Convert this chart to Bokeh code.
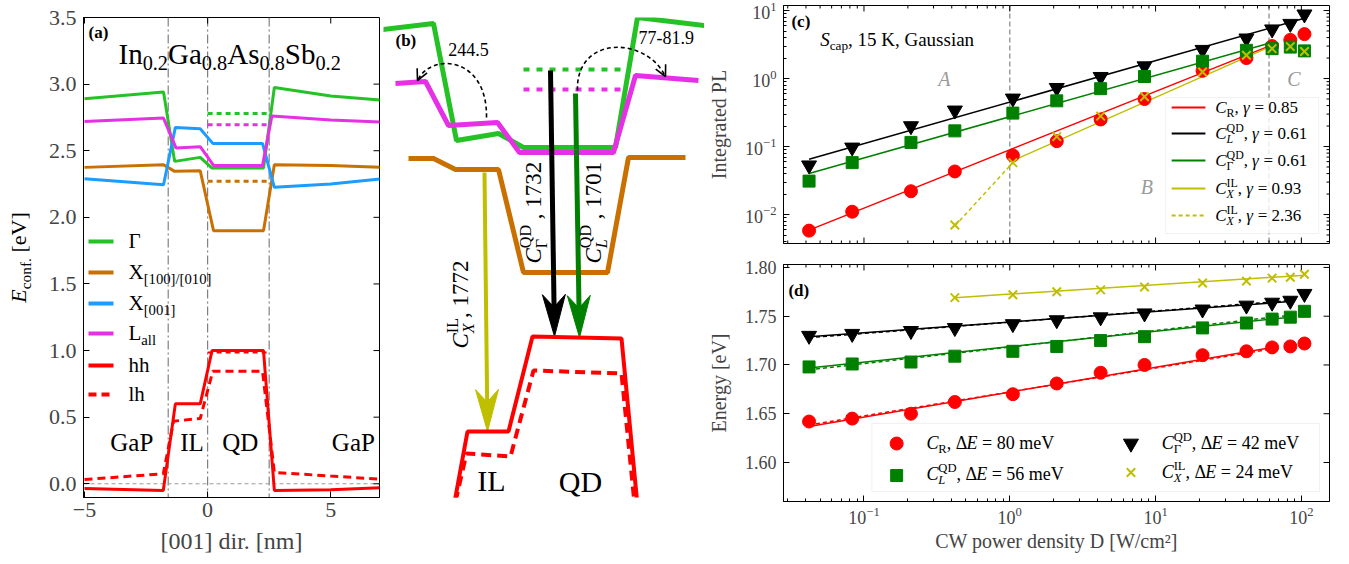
import math
from bokeh.plotting import figure
from bokeh.models import (Range1d, Label, Arrow, OpenHead, Span, FixedTicker, LinearScale,
                          CustomJSTickFormatter, BoxAnnotation)
from bokeh.layouts import row, column
from bokeh.embed import file_html
from bokeh.resources import INLINE

SERIF = "Liberation Serif"
RED = "#ff0000"
MGREEN = "#008000"
MYEL = "#bfbf00"
C_G = "#25c225"
C_X = "#c97000"
C_Z = "#1c9cff"
C_L = "#e530e5"
GRAY = "#808080"

# ---------------- panel (a): band edges along [001] (nm, eV) ----------------
a_G_x = [-5.0, -1.79, -1.34, -0.30, 0.18, 2.27, 2.71, 5.0, 7.0]
a_G_y = [2.89, 2.94, 2.42, 2.45, 2.37, 2.37, 2.975, 2.91, 2.88]
a_X_x = [-5.0, -1.79, -1.34, -0.30, 0.24, 2.27, 2.71, 5.0, 7.0]
a_X_y = [2.375, 2.395, 2.345, 2.35, 1.90, 1.90, 2.395, 2.39, 2.375]
a_Z_x = [-5.0, -1.79, -1.31, -0.30, 0.21, 2.23, 2.71, 5.0, 7.0]
a_Z_y = [2.29, 2.245, 2.675, 2.665, 2.555, 2.555, 2.225, 2.25, 2.287]
a_L_x = [-5.0, -1.79, -1.28, -0.30, 0.24, 2.23, 2.61, 5.0, 7.0]
a_L_y = [2.72, 2.745, 2.52, 2.53, 2.39, 2.39, 2.76, 2.73, 2.715]
a_hh_x = [-5.0, -1.80, -1.31, -0.30, 0.18, 2.27, 2.71, 5.0, 7.0]
a_hh_y = [-0.035, -0.05, 0.60, 0.60, 1.0, 1.0, -0.05, -0.045, -0.03]
a_lh_x = [-5.0, -1.80, -1.38, -0.30, 0.21, 2.23, 2.71, 5.0, 7.0]
a_lh_y = [0.032, 0.075, 0.47, 0.49, 0.845, 0.845, 0.085, 0.058, 0.035]
a_lev_x = [0.0, 2.41]
a_lev_G = 2.78
a_lev_L = 2.695
a_lev_X = 2.27
a_lev_hh = 0.985
a_iface = [-1.6, 0.0, 2.5]
a_regions = ["GaP", "IL", "QD", "GaP"]
a_region_x = [-3.08, -0.63, 1.33, 5.92]
a_xticks = [-5, 0, 5]
a_yticks = [0.0, 0.5, 1.0, 1.5, 2.0, 2.5, 3.0, 3.5]
XA0, XA1 = -5.04, 6.98
YA0, YA1 = -0.103, 3.5

# ---------------- panel (b): schematic profiles (page pixels) ----------------
b_G_x = [382, 433, 456, 498, 523, 615, 637, 712]
b_G_y = [29, 23, 140, 133, 147, 147, 17, 26]
b_L_x = [395, 425, 448, 497, 519, 613, 635, 698]
b_L_y = [83, 81, 125, 122, 152, 152, 75, 80]
b_X_x = [408, 433, 455, 498, 523, 607, 628, 685]
b_X_y = [158, 158, 169, 169, 272, 272, 157, 157]
b_hh_x = [454, 467, 508, 532, 621, 637]
b_hh_y = [502, 431, 431, 336, 338, 505]
b_lh_x = [455, 466, 510, 533, 621, 634]
b_lh_y = [501, 453, 456, 370, 373, 503]
b_dot_x = [523, 622]
b_dot_G_y = 69
b_dot_L_y = 89
b_arr_x0 = [550, 575, 484]
b_arr_y0 = [70, 93, 172]
b_arr_x1 = [554, 579, 487]
b_arr_y1 = [336, 337, 431]
b_arr_col = ["black", MGREEN, MYEL]
b_arr_w = [5, 5, 4]
b_cur_x0 = [486, 577]
b_cur_y0 = [117, 90]
b_cur_cx0 = [487, 575]
b_cur_cy0 = [55, 35]
b_cur_cx1 = [430, 645]
b_cur_cy1 = [52, 35]
b_cur_x1 = [417, 665]
b_cur_y1 = [80, 76]

# ---------------- panels (c), (d) ----------------
D = [0.042, 0.083, 0.21, 0.42, 1.05, 2.1, 4.2, 8.4, 21, 42, 63, 84, 105]
D_X = [0.42, 1.05, 2.1, 4.2, 8.4, 21, 42, 63, 84, 105]
PL_R = [0.0058, 0.011, 0.022, 0.043, 0.074, 0.12, 0.25, 0.50, 1.3, 2.0, 3.0, 3.7, 4.5]
PL_L = [0.031, 0.058, 0.115, 0.17, 0.31, 0.47, 0.71, 1.07, 1.8, 2.6, 2.75, 2.9, 2.55]
PL_G = [0.053, 0.097, 0.20, 0.34, 0.51, 0.73, 1.06, 1.52, 2.65, 3.9, 5.3, 6.4, 8.8]
PL_X = [0.0070, 0.058, 0.14, 0.28, 0.54, 1.25, 2.2, 2.75, 2.95, 2.5]
fitc_R_x = [0.042, 60]
fitc_R_y = [0.0059, 3.0]
fitc_G_x = [0.042, 105]
fitc_G_y = [0.065, 7.7]
fitc_L_x = [0.042, 60]
fitc_L_y = [0.040, 3.3]
fitc_X_x = [1.05, 60]
fitc_X_y = [0.062, 2.9]
fitc_X2_x = [0.42, 1.05]
fitc_X2_y = [0.0068, 0.058]
c_vlines = [1.0, 60.0]

E_R = [1.642, 1.645, 1.650, 1.662, 1.670, 1.681, 1.692, 1.700, 1.710, 1.714, 1.718, 1.719, 1.722]
E_L = [1.698, 1.701, 1.703, 1.709, 1.714, 1.719, 1.725, 1.729, 1.738, 1.743, 1.747, 1.749, 1.755]
E_G = [1.730, 1.732, 1.735, 1.738, 1.742, 1.746, 1.749, 1.753, 1.757, 1.761, 1.764, 1.766, 1.773]
E_X = [1.769, 1.772, 1.775, 1.777, 1.780, 1.784, 1.786, 1.789, 1.790, 1.793]
fitd_R_x = [0.042, 63]
fitd_R_y = [1.637, 1.718]
fitd_R2_y = [1.6385, 1.7165]
fitd_L_x = [0.042, 84]
fitd_L_y = [1.697, 1.749]
fitd_L2_y = [1.695, 1.751]
fitd_G_x = [0.042, 84]
fitd_G_y = [1.729, 1.765]
fitd_G2_y = [1.728, 1.766]
fitd_X_x = [0.42, 105]
fitd_X_y = [1.769, 1.792]
d_yticks = [1.60, 1.65, 1.70, 1.75, 1.80]
LX0, LX1 = -1.552, 2.193           # log10 limits of the shared power axis
LC0, LC1 = -2.426, 1.074           # log10 limits of integrated PL
YD0, YD1 = 1.560, 1.803            # energy limits

# ---------------- text helpers ----------------
NB = "\u00a0"
W = {' ': 250, NB: 250, '!': 333, '(': 333, ')': 333, ',': 250, '-': 333, '.': 250, '/': 278,
     ':': 278, '=': 564, '[': 333, ']': 333, '\u2212': 564, '\u00b2': 300,
     'A': 722, 'B': 667, 'C': 667, 'D': 722, 'E': 611, 'F': 556, 'G': 722, 'H': 722, 'I': 333,
     'J': 389, 'K': 722, 'L': 611, 'M': 889, 'N': 722, 'O': 722, 'P': 556, 'Q': 722, 'R': 667,
     'S': 556, 'T': 611, 'U': 722, 'V': 722, 'W': 944, 'X': 722, 'Y': 722, 'Z': 611,
     'a': 444, 'b': 500, 'c': 444, 'd': 500, 'e': 444, 'f': 333, 'g': 500, 'h': 500, 'i': 278,
     'j': 278, 'k': 500, 'l': 278, 'm': 778, 'n': 500, 'o': 500, 'p': 500, 'q': 500, 'r': 333,
     's': 389, 't': 278, 'u': 500, 'v': 500, 'w': 722, 'x': 500, 'y': 500, 'z': 444,
     '\u0393': 578, '\u0394': 612, '\u03b3': 460}
WI = {'C': 667, 'E': 611, 'L': 556, 'X': 611, 'S': 500, 'R': 611, 'A': 611, 'B': 611, '\u03b3': 430}
WB = {'a': 500, 'b': 556, 'c': 444, 'd': 556}
MID = 0.34   # distance from alphabetic baseline to the middle of the text box (in em)


def tw(text, style):
    tot = 0
    for ch in text:
        w = W.get(ch, 500)
        if style == "italic" and ch in WI:
            w = WI[ch]
        if style == "bold" and ch in WB:
            w = WB[ch]
        tot += w
    return tot / 1000.0


def rich(p, x, y, runs, size, color="black", angle=0.0, align="left", rng=("px", "py")):
    """Place runs of text (normal / sub / sup) with their baseline at (x, y) in page pixels."""
    items = []
    adv = 0.0
    pend = 0.0
    for r in runs:
        text, kind, style = r[0].replace(" ", NB), r[1], r[2]
        stack = len(r) > 3 and r[3]
        s = size * 0.7 if kind != "n" else size
        w = tw(text, style) * s
        if kind == "n":
            dy = 0.0
        elif kind == "sub":
            dy = 0.22 * size
        else:
            dy = -0.45 * size
        items.append((text, adv, dy, s, style))
        if stack:
            pend = w
        else:
            adv += max(w, pend)
            pend = 0.0
    shift = {"left": 0.0, "center": -adv / 2.0, "right": -adv}[align]
    for text, a, dy, s, style in items:
        a += shift
        if angle == 0:
            lx, ly = x + a, y + dy - MID * s
        else:
            lx, ly = x + dy - MID * s, y - a
        kw = {}
        if rng:
            kw = dict(x_range_name=rng[0], y_range_name=rng[1])
        p.add_layout(Label(x=lx, y=ly, text=text, text_font=SERIF, text_font_size="%.1fpx" % s,
                           text_font_style=style, text_color=color, text_align="left",
                           text_baseline="middle", angle=angle, **kw))


def ax_style(ax, size):
    ax.major_tick_in = 6
    ax.major_tick_out = 0
    ax.minor_tick_in = 3
    ax.minor_tick_out = 0
    ax.major_tick_line_color = "black"
    ax.minor_tick_line_color = "black"
    ax.axis_line_color = "black"
    ax.major_label_text_font = SERIF
    ax.axis_label_text_font = SERIF
    ax.axis_label_text_font_style = "normal"
    ax.major_label_text_font_size = size


def ticks(p, xs0, ys0, xs1, ys1):
    p.segment(x0=xs0, y0=ys0, x1=xs1, y1=ys1, line_color="black", line_width=1,
              x_range_name="px", y_range_name="py")


def log_ticks(lo, hi):
    major = [10.0 ** k for k in range(-4, 4) if lo <= k <= hi]
    minor = [m * 10.0 ** k for k in range(-4, 4) for m in range(2, 10)
             if lo <= math.log10(m * 10.0 ** k) <= hi]
    return major, minor


def no_chrome(p):
    p.outline_line_color = None
    p.grid.visible = False


# the row aligns the plot frames, so every plot of the row shares the same vertical borders
TOP_A, BOT_A, H_ROW = 17, 65, 562
FB = H_ROW - BOT_A   # frame bottom (page px) = 497

# ======================= y-label strip for (a) =======================
pa0 = figure(width=35, height=H_ROW, x_range=Range1d(0, 35), y_range=Range1d(FB, TOP_A),
             x_axis_type=None, y_axis_type=None, min_border_left=0, min_border_right=0,
             min_border_top=TOP_A, min_border_bottom=BOT_A, output_backend="svg",
             toolbar_location=None)
no_chrome(pa0)
rich(pa0, 25, 257, [("E", "n", "italic"), ("conf.", "sub", "normal"), (" [eV]", "n", "normal")],
     22, angle=math.pi / 2, align="center", rng=None)

# ======================= panel (a) =======================
pa = figure(width=348, height=H_ROW, x_range=Range1d(XA0, XA1), y_range=Range1d(YA0, YA1),
            output_backend="svg", toolbar_location=None, min_border_left=48, min_border_right=4,
            min_border_top=TOP_A, min_border_bottom=BOT_A)
pa.grid.visible = False
pa.outline_line_color = "black"
pa.extra_x_ranges = {"px": Range1d(83, 379)}
pa.extra_y_ranges = {"py": Range1d(FB, TOP_A)}
xa = pa.xaxis[0]
ya = pa.yaxis[0]
xa.ticker = FixedTicker(ticks=a_xticks)
ya.ticker = FixedTicker(ticks=a_yticks)
xa.formatter = CustomJSTickFormatter(code="return tick < 0 ? '\u2212' + Math.abs(tick) : String(tick);")
ya.formatter = CustomJSTickFormatter(code="return tick.toFixed(1);")
ax_style(xa, "22px")
ax_style(ya, "22px")
xa.axis_label = "[001] dir. [nm]"
xa.axis_label_text_font_size = "24px"
xa.major_label_standoff = 5
xa.axis_label_standoff = 8
ya.major_label_standoff = 7


def apx_of(v):
    return 83 + (v - XA0) / (XA1 - XA0) * 296


apx = [apx_of(v) for v in a_xticks]
apy = [FB - (v - YA0) / (YA1 - YA0) * (FB - TOP_A) for v in a_yticks]
ticks(pa, apx, [TOP_A] * len(apx), apx, [TOP_A + 6] * len(apx))
ticks(pa, [379] * len(apy), apy, [373] * len(apy), apy)

for loc in a_iface:
    pa.add_layout(Span(location=loc, dimension="height", line_color=GRAY, line_dash="9 3 2 3",
                       line_width=1.2, level="underlay"))
pa.add_layout(Span(location=0.0, dimension="width", line_color="#9a9a9a", line_dash="4 3",
                   line_width=1.0, level="underlay"))

pa.line(a_G_x, a_G_y, color=C_G, line_width=3)
pa.line(a_X_x, a_X_y, color=C_X, line_width=3)
pa.line(a_Z_x, a_Z_y, color=C_Z, line_width=3)
pa.line(a_L_x, a_L_y, color=C_L, line_width=3)
pa.line(a_hh_x, a_hh_y, color=RED, line_width=3)
pa.line(a_lh_x, a_lh_y, color=RED, line_width=3, line_dash="8 5")
pa.line(a_lev_x, [a_lev_G] * 2, color=C_G, line_width=3, line_dash="5 4")
pa.line(a_lev_x, [a_lev_L] * 2, color=C_L, line_width=3, line_dash="5 4")
pa.line(a_lev_x, [a_lev_X] * 2, color=C_X, line_width=3, line_dash="5 4")
pa.line(a_lev_x, [a_lev_hh] * 2, color=RED, line_width=2, line_dash="5 4")

for name, xc in zip(a_regions, a_region_x):
    rich(pa, apx_of(xc), 450, [(name, "n", "normal")], 25, align="center")

rich(pa, 88, 38, [("(a)", "n", "bold")], 17)
rich(pa, 118, 63, [("In", "n", "normal"), ("0.2", "sub", "normal"), ("Ga", "n", "normal"),
                   ("0.8", "sub", "normal"), ("As", "n", "normal"), ("0.8", "sub", "normal"),
                   ("Sb", "n", "normal"), ("0.2", "sub", "normal")], 29)

leg_a_rows = [241, 272, 303, 333, 365, 394]
leg_a_cols = [C_G, C_X, C_Z, C_L, RED, RED]
leg_a_dash = ["solid", "solid", "solid", "solid", "solid", "8 5"]
leg_a_txt = [[("\u0393", "n", "normal")],
             [("X", "n", "normal"), ("[100]/[010]", "sub", "normal")],
             [("X", "n", "normal"), ("[001]", "sub", "normal")],
             [("L", "n", "normal"), ("all", "sub", "normal")],
             [("hh", "n", "normal")],
             [("lh", "n", "normal")]]
for yy, cc, dd, tt in zip(leg_a_rows, leg_a_cols, leg_a_dash, leg_a_txt):
    pa.line([88, 113], [yy, yy], color=cc, line_width=4, line_dash=dd,
            x_range_name="px", y_range_name="py")
    rich(pa, 128, yy + 7, tt, 21)

# ======================= panel (b) =======================
pb = figure(width=321, height=H_ROW, x_range=Range1d(383, 704), y_range=Range1d(FB, TOP_A),
            x_axis_type=None, y_axis_type=None, min_border_left=0, min_border_right=0,
            min_border_top=TOP_A, min_border_bottom=BOT_A, output_backend="svg",
            toolbar_location=None)
no_chrome(pb)

pb.line(b_G_x, b_G_y, color=C_G, line_width=5)
pb.line(b_L_x, b_L_y, color=C_L, line_width=5)
pb.line(b_X_x, b_X_y, color=C_X, line_width=5)
pb.line(b_dot_x, [b_dot_G_y] * 2, color=C_G, line_width=4, line_dash="6 7")
pb.line(b_dot_x, [b_dot_L_y] * 2, color=C_L, line_width=4, line_dash="6 7")

pb.bezier(x0=b_cur_x0, y0=b_cur_y0, x1=b_cur_x1, y1=b_cur_y1, cx0=b_cur_cx0, cy0=b_cur_cy0,
          cx1=b_cur_cx1, cy1=b_cur_cy1, line_color="black", line_width=1.6, line_dash="4 3")
for i in range(len(b_cur_x1)):
    dx = b_cur_x1[i] - b_cur_cx1[i]
    dy = b_cur_y1[i] - b_cur_cy1[i]
    n = math.hypot(dx, dy)
    pb.add_layout(Arrow(end=OpenHead(size=11, line_width=1.6, line_color="black"),
                        x_start=b_cur_x1[i] - 4 * dx / n, y_start=b_cur_y1[i] - 4 * dy / n,
                        x_end=b_cur_x1[i], y_end=b_cur_y1[i], line_alpha=0.0))


def head_poly(x0, y0, x1, y1, length=42.0, width=23.0, notch=0.7):
    dx, dy = x1 - x0, y1 - y0
    n = math.hypot(dx, dy)
    ux, uy = dx / n, dy / n
    px, py = -uy, ux
    bx, by = x1 - ux * length, y1 - uy * length
    nx, ny = x1 - ux * length * notch, y1 - uy * length * notch
    xs = [x1, bx + px * width / 2, nx, bx - px * width / 2]
    ys = [y1, by + py * width / 2, ny, by - py * width / 2]
    return xs, ys, nx, ny


for x0, y0, x1, y1, col, lw in zip(b_arr_x0, b_arr_y0, b_arr_x1, b_arr_y1, b_arr_col, b_arr_w):
    hx, hy, nx, ny = head_poly(x0, y0, x1, y1)
    pb.line([x0, nx], [y0, ny], color=col, line_width=lw)
    pb.patch(hx, hy, fill_color=col, line_color=col, line_width=1)

pb.line(b_hh_x, b_hh_y, color=RED, line_width=4)
pb.line(b_lh_x, b_lh_y, color=RED, line_width=4, line_dash="10 6")

rich(pb, 395, 46, [("(b)", "n", "bold")], 17, rng=None)
rich(pb, 468, 55, [("244.5", "n", "normal")], 18, align="center", rng=None)
rich(pb, 638, 43, [("77-81.9", "n", "normal")], 18, rng=None)
rich(pb, 541, 263, [("C", "n", "italic"), ("\u0393", "sub", "normal", True), ("QD", "sup", "normal"),
                    (" , 1732", "n", "normal")], 23, angle=math.pi / 2, rng=None)
rich(pb, 601, 263, [("C", "n", "italic"), ("L", "sub", "italic", True), ("QD", "sup", "normal"),
                    (" , 1701", "n", "normal")], 23, angle=math.pi / 2, rng=None)
rich(pb, 468, 348, [("C", "n", "italic"), ("X", "sub", "italic", True), ("IL", "sup", "normal"),
                    (", 1772", "n", "normal")], 23, angle=math.pi / 2, rng=None)
rich(pb, 491, 490, [("IL", "n", "normal")], 30, align="center", rng=None)
rich(pb, 580, 491, [("QD", "n", "normal")], 30, align="center", rng=None)

# shared tick positions for the power axis
mx, nx_ = log_ticks(LX0, LX1)
cpx_major = [779 + (math.log10(v) - LX0) / (LX1 - LX0) * 550 for v in mx]
cpx_minor = [779 + (math.log10(v) - LX0) / (LX1 - LX0) * 550 for v in nx_]

# ======================= panel (c) =======================
xr = Range1d(10 ** LX0, 10 ** LX1)
pc = figure(width=641, height=255, x_axis_type="log", y_axis_type="log", x_range=xr,
            y_range=Range1d(10 ** LC0, 10 ** LC1), x_axis_location=None,
            output_backend="svg", toolbar_location=None,
            min_border_left=75, min_border_right=16, min_border_top=5, min_border_bottom=12)
pc.grid.visible = False
pc.outline_line_color = "black"
pc.extra_x_ranges = {"px": Range1d(779, 1329)}
pc.extra_y_ranges = {"py": Range1d(243, 5)}
pc.extra_x_scales = {"px": LinearScale()}
pc.extra_y_scales = {"py": LinearScale()}
ax_style(pc.yaxis[0], "18px")
pc.yaxis[0].axis_label = "Integrated PL"
pc.yaxis[0].axis_label_text_font_size = "20px"
pc.yaxis[0].major_label_standoff = 7
pc.yaxis[0].axis_label_standoff = 12

my, ny_ = log_ticks(LC0, LC1)
cpy_major = [243 - (math.log10(v) - LC0) / (LC1 - LC0) * 238 for v in my]
cpy_minor = [243 - (math.log10(v) - LC0) / (LC1 - LC0) * 238 for v in ny_]
ticks(pc, cpx_major, [5] * len(cpx_major), cpx_major, [11] * len(cpx_major))
ticks(pc, cpx_minor, [5] * len(cpx_minor), cpx_minor, [8] * len(cpx_minor))
ticks(pc, cpx_major, [243] * len(cpx_major), cpx_major, [237] * len(cpx_major))
ticks(pc, cpx_minor, [243] * len(cpx_minor), cpx_minor, [240] * len(cpx_minor))
ticks(pc, [1329] * len(cpy_major), cpy_major, [1323] * len(cpy_major), cpy_major)
ticks(pc, [1329] * len(cpy_minor), cpy_minor, [1326] * len(cpy_minor), cpy_minor)

for v in c_vlines:
    pc.add_layout(Span(location=v, dimension="height", line_color="#8c8c8c", line_dash="5 3",
                       line_width=1.3, level="underlay"))

pc.line(fitc_R_x, fitc_R_y, color=RED, line_width=1.5)
pc.line(fitc_G_x, fitc_G_y, color="black", line_width=1.5)
pc.line(fitc_L_x, fitc_L_y, color=MGREEN, line_width=1.5)
pc.line(fitc_X_x, fitc_X_y, color=MYEL, line_width=1.5)
pc.line(fitc_X2_x, fitc_X2_y, color=MYEL, line_width=1.5, line_dash="4 3")
pc.scatter(D, PL_R, marker="circle", size=13, color=RED)
pc.scatter(D, PL_G, marker="inverted_triangle", size=15, color="black")
pc.scatter(D, PL_L, marker="square", size=12, color=MGREEN)
pc.scatter(D_X, PL_X, marker="x", size=12, line_color=MYEL, line_width=2)

rich(pc, 787, 27, [("(c)", "n", "bold")], 17)
rich(pc, 816, 45, [("S", "n", "italic"), ("cap", "sub", "normal"),
                   (", 15 K, Gaussian", "n", "normal")], 19)
rich(pc, 941, 85, [("A", "n", "italic")], 20, color="#9a9a9a", align="center")
rich(pc, 1145, 193, [("B", "n", "italic")], 20, color="#9a9a9a", align="center")
rich(pc, 1293, 85, [("C", "n", "italic")], 20, color="#9a9a9a", align="center")

pc.add_layout(BoxAnnotation(left=1164, right=1318, top=97, bottom=233, x_range_name="px",
                            y_range_name="py", fill_color="white", fill_alpha=0.8,
                            line_color="#d0d0d0", line_width=1))
leg_c_rows = [107, 133, 160, 188, 215]
leg_c_cols = [RED, "black", MGREEN, MYEL, MYEL]
leg_c_dash = ["solid", "solid", "solid", "solid", "4 3"]
leg_c_txt = [
    [("C", "n", "italic"), ("R", "sub", "normal"), (", ", "n", "normal"), ("\u03b3", "n", "italic"), (" = 0.85", "n", "normal")],
    [("C", "n", "italic"), ("L", "sub", "italic", True), ("QD", "sup", "normal"), (", ", "n", "normal"), ("\u03b3", "n", "italic"), (" = 0.61", "n", "normal")],
    [("C", "n", "italic"), ("\u0393", "sub", "normal", True), ("QD", "sup", "normal"), (", ", "n", "normal"), ("\u03b3", "n", "italic"), (" = 0.61", "n", "normal")],
    [("C", "n", "italic"), ("X", "sub", "italic", True), ("IL", "sup", "normal"), (", ", "n", "normal"), ("\u03b3", "n", "italic"), (" = 0.93", "n", "normal")],
    [("C", "n", "italic"), ("X", "sub", "italic", True), ("IL", "sup", "normal"), (", ", "n", "normal"), ("\u03b3", "n", "italic"), (" = 2.36", "n", "normal")],
]
for yy, cc, dd, tt in zip(leg_c_rows, leg_c_cols, leg_c_dash, leg_c_txt):
    pc.line([1170, 1204], [yy, yy], color=cc, line_width=2, line_dash=dd,
            x_range_name="px", y_range_name="py", level="overlay")
    rich(pc, 1214, yy + 6, tt, 17)

# ======================= panel (d) =======================
pdd = figure(width=641, height=305, x_axis_type="log", x_range=xr, y_range=Range1d(YD0, YD1),
             output_backend="svg", toolbar_location=None, min_border_left=75, min_border_right=16,
             min_border_top=9, min_border_bottom=59)
pdd.grid.visible = False
pdd.outline_line_color = "black"
pdd.extra_x_ranges = {"px": Range1d(779, 1329)}
pdd.extra_y_ranges = {"py": Range1d(501, 264)}
pdd.extra_x_scales = {"px": LinearScale()}
pdd.extra_y_scales = {"py": LinearScale()}
xd = pdd.xaxis[0]
yd = pdd.yaxis[0]
yd.ticker = FixedTicker(ticks=d_yticks)
yd.formatter = CustomJSTickFormatter(code="return tick.toFixed(2);")
ax_style(xd, "18px")
ax_style(yd, "18px")
yd.minor_tick_line_color = None
xd.axis_label = "CW power density D [W/cm\u00b2]"
xd.axis_label_text_font_size = "20px"
xd.major_label_standoff = 5
xd.axis_label_standoff = 3
yd.axis_label = "Energy [eV]"
yd.axis_label_text_font_size = "20px"
yd.major_label_standoff = 7
yd.axis_label_standoff = 12

dpy = [501 - (v - YD0) / (YD1 - YD0) * 237 for v in d_yticks]
ticks(pdd, cpx_major, [264] * len(cpx_major), cpx_major, [270] * len(cpx_major))
ticks(pdd, cpx_minor, [264] * len(cpx_minor), cpx_minor, [267] * len(cpx_minor))
ticks(pdd, [1329] * len(dpy), dpy, [1323] * len(dpy), dpy)

pdd.line(fitd_R_x, fitd_R_y, color=RED, line_width=1.5)
pdd.line(fitd_R_x, fitd_R2_y, color=RED, line_width=1.5, line_dash="4 3")
pdd.line(fitd_L_x, fitd_L_y, color=MGREEN, line_width=1.5)
pdd.line(fitd_L_x, fitd_L2_y, color=MGREEN, line_width=1.5, line_dash="4 3")
pdd.line(fitd_G_x, fitd_G_y, color="black", line_width=1.5)
pdd.line(fitd_G_x, fitd_G2_y, color="black", line_width=1.5, line_dash="4 3")
pdd.line(fitd_X_x, fitd_X_y, color=MYEL, line_width=1.5)
pdd.scatter(D, E_R, marker="circle", size=13, color=RED)
pdd.scatter(D, E_G, marker="inverted_triangle", size=15, color="black")
pdd.scatter(D, E_L, marker="square", size=12, color=MGREEN)
pdd.scatter(D_X, E_X, marker="x", size=12, line_color=MYEL, line_width=2)

rich(pdd, 784, 296, [("(d)", "n", "bold")], 17)
pdd.add_layout(BoxAnnotation(left=868, right=1319, top=423, bottom=491, x_range_name="px",
                             y_range_name="py", fill_color="white", fill_alpha=0.8,
                             line_color="#d0d0d0", line_width=1))
pdd.scatter([893], [443], marker="circle", size=13, color=RED, x_range_name="px",
            y_range_name="py", level="overlay")
pdd.scatter([893], [475], marker="square", size=12, color=MGREEN, x_range_name="px",
            y_range_name="py", level="overlay")
pdd.scatter([1129], [443], marker="inverted_triangle", size=15, color="black", x_range_name="px",
            y_range_name="py", level="overlay")
pdd.scatter([1129], [472], marker="x", size=12, line_color=MYEL, line_width=2, x_range_name="px",
            y_range_name="py", level="overlay")
rich(pdd, 923, 449, [("C", "n", "italic"), ("R", "sub", "normal"), (", \u0394", "n", "normal"),
                     ("E", "n", "italic"), (" = 80 meV", "n", "normal")], 18)
rich(pdd, 923, 480, [("C", "n", "italic"), ("L", "sub", "italic", True), ("QD", "sup", "normal"),
                     (", \u0394", "n", "normal"), ("E", "n", "italic"), (" = 56 meV", "n", "normal")], 18)
rich(pdd, 1160, 449, [("C", "n", "italic"), ("\u0393", "sub", "normal", True), ("QD", "sup", "normal"),
                      (", \u0394", "n", "normal"), ("E", "n", "italic"), (" = 42 meV", "n", "normal")], 18)
rich(pdd, 1160, 478, [("C", "n", "italic"), ("X", "sub", "italic", True), ("IL", "sup", "normal"),
                      (", \u0394", "n", "normal"), ("E", "n", "italic"), (" = 24 meV", "n", "normal")], 18)

layout = row(pa0, pa, pb, column(pc, pdd))
open("out.html", "w").write(file_html(layout, INLINE))
